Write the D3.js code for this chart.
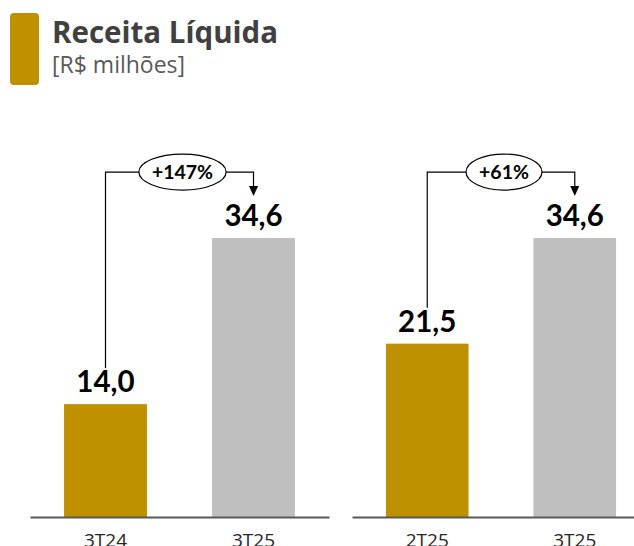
<!DOCTYPE html>
<html>
<head>
<meta charset="utf-8">
<script src="https://cdn.jsdelivr.net/npm/d3@7"></script>
<style>
  body { margin: 0; background: #fff; }
  svg { display: block; }
</style>
</head>
<body>
<div id="chart"></div>
<script>
'use strict';

// data
var leftCategories = ['3T24', '3T25'];
var leftValues = [14.0, 34.6];
var leftChange = '+147%';

var rightCategories = ['2T25', '3T25'];
var rightValues = [21.5, 34.6];
var rightChange = '+61%';

var barColors = ['#BF9000', '#BFBFBF'];

var width = 634,
    height = 546;

var baseY = 517;

var svg = d3.select('#chart').append('svg')
    .attr('width', width)
    .attr('height', height);

// header
svg.append('rect')
    .attr('x', 10).attr('y', 13)
    .attr('width', 29).attr('height', 72)
    .attr('rx', 4)
    .attr('fill', '#BF9000');

svg.append('text')
    .attr('x', 52).attr('y', 43)
    .attr('font-family', '"Open Sans", sans-serif')
    .attr('font-weight', 700)
    .attr('font-size', 29.5)
    .attr('fill', '#404040')
    .text('Receita Líquida');

svg.append('text')
    .attr('x', 52).attr('y', 73)
    .attr('font-family', '"Open Sans", sans-serif')
    .attr('font-size', 23)
    .attr('fill', '#595959')
    .text('[R$ milhões]');

var y = d3.scaleLinear()
    .domain([0, 40])
    .range([baseY, baseY - 322.5]);

function drawPanel(categories, values, change, range) {
    var x = d3.scaleBand()
        .domain(categories)
        .range(range)
        .paddingInner(0.44)
        .paddingOuter(0.23);

    var g = svg.append('g');

    g.selectAll('rect.bar')
        .data(values)
        .enter()
        .append('rect')
        .attr('class', 'bar')
        .attr('x', function(d, i) { return x(categories[i]); })
        .attr('y', function(d) { return y(d); })
        .attr('width', x.bandwidth())
        .attr('height', function(d) { return y(0) - y(d); })
        .attr('fill', function(d, i) { return barColors[i]; });

    g.selectAll('text.value')
        .data(values)
        .enter()
        .append('text')
        .attr('class', 'value')
        .attr('x', function(d, i) { return x(categories[i]) + x.bandwidth() / 2; })
        .attr('y', function(d) { return y(d) - 12; })
        .attr('text-anchor', 'middle')
        .attr('font-family', 'Lato, sans-serif')
        .attr('font-weight', 700)
        .attr('font-size', 29.5)
        .attr('fill', '#000')
        .text(function(d) { return d3.format('.1f')(d).replace('.', ','); });

    // axis line + category labels
    var axis = d3.axisBottom(x).tickSize(0).tickPadding(17);
    var ax = g.append('g')
        .attr('transform', 'translate(0,' + baseY + ')')
        .call(axis);
    ax.select('.domain')
        .attr('stroke', '#595959')
        .attr('stroke-width', 2);
    ax.selectAll('text')
        .attr('font-family', '"Open Sans", sans-serif')
        .attr('font-size', 19)
        .attr('fill', '#262626');

    // growth bracket
    var x0 = x(categories[0]) + x.bandwidth() / 2,
        x1 = x(categories[1]) + x.bandwidth() / 2;
    var topY = y(d3.max(values)) - 66;
    var cx = (x0 + x1) / 2 + 3;

    var ellipse = g.append('ellipse');

    var label = g.append('text')
        .attr('x', cx).attr('y', topY + 7)
        .attr('text-anchor', 'middle')
        .attr('font-family', 'Lato, sans-serif')
        .attr('font-weight', 700)
        .attr('font-size', 19.5)
        .attr('fill', '#000')
        .text(change);
    var rx = label.node().getComputedTextLength() / 2 + 13,
        ry = 18;

    ellipse
        .attr('cx', cx).attr('cy', topY)
        .attr('rx', rx).attr('ry', ry)
        .attr('fill', '#fff')
        .attr('stroke', '#000')
        .attr('stroke-width', 1.2);

    g.append('path')
        .attr('d', 'M' + x0 + ',' + (y(values[0]) - 36) + 'V' + topY + 'H' + (cx - rx))
        .attr('fill', 'none')
        .attr('stroke', '#000')
        .attr('stroke-width', 1.2);

    g.append('path')
        .attr('d', 'M' + (cx + rx) + ',' + topY + 'H' + x1 + 'V' + (topY + 16))
        .attr('fill', 'none')
        .attr('stroke', '#000')
        .attr('stroke-width', 1.2);

    g.append('path')
        .attr('d', 'M' + (x1 - 4.5) + ',' + (topY + 14) + 'L' + (x1 + 4.5) + ',' + (topY + 14) + 'L' + x1 + ',' + (topY + 24) + 'Z')
        .attr('fill', '#000');
}

drawPanel(leftCategories, leftValues, leftChange, [30, 329]);
drawPanel(rightCategories, rightValues, rightChange, [352, 650]);
</script>
</body>
</html>
